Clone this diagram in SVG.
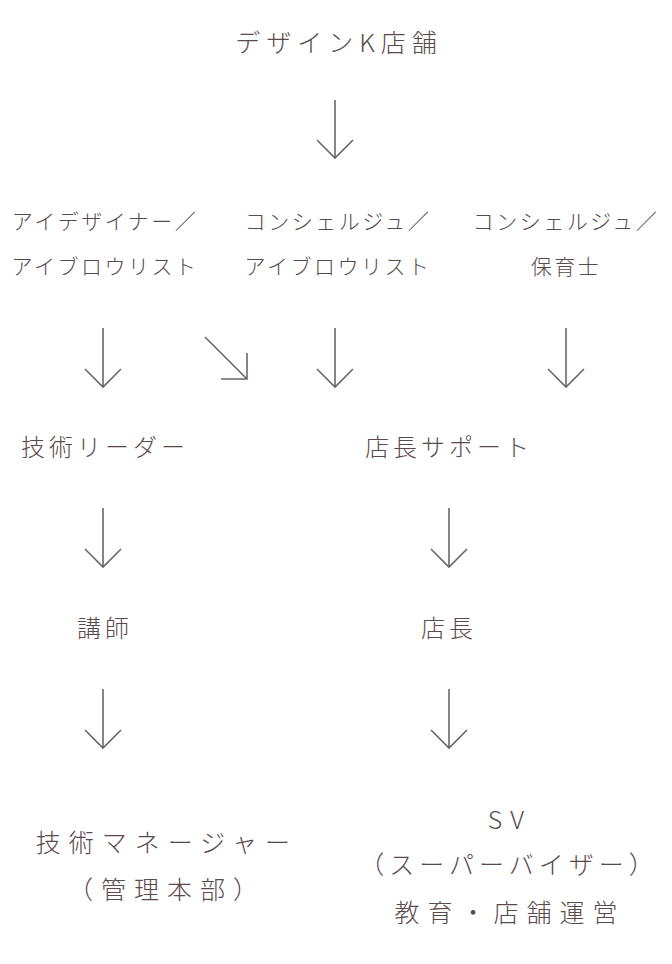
<svg xmlns="http://www.w3.org/2000/svg" width="672" height="964" viewBox="0 0 672 964">
<style>
text{font-family:"Noto Sans CJK JP","Noto Sans",sans-serif;font-weight:300;fill:#5a4a4b;text-anchor:middle}
.a{fill:none;stroke:#6f6569;stroke-width:1.6}
.t{font-size:25px;letter-spacing:6px}
.s{font-size:24px;letter-spacing:4px}
.m{font-size:21px;letter-spacing:2.5px}
.b{font-size:25px;letter-spacing:8px}
.c{font-size:25px;letter-spacing:5px}
</style>
<rect width="672" height="964" fill="#fff"/>
<g id="n0"><text class="t" x="339" y="52">デザインK店舗</text></g>
<g id="n1"><text class="m" x="105" y="229">アイデザイナー／</text><text class="m" x="105" y="274">アイブロウリスト</text></g>
<g id="n2"><text class="m" x="338" y="229">コンシェルジュ／</text><text class="m" x="338" y="274">アイブロウリスト</text></g>
<g id="n3"><text class="m" x="566" y="229">コンシェルジュ／</text><text class="m" x="566" y="274">保育士</text></g>
<g id="n4"><text class="s" x="105" y="456">技術リーダー</text></g>
<g id="n5"><text class="s" x="449" y="456">店長サポート</text></g>
<g id="n6"><text class="s" x="105" y="637">講師</text></g>
<g id="n7"><text class="s" x="449" y="637">店長</text></g>
<g id="n8"><text class="b" x="167" y="852">技術マネージャー</text><text class="b" x="167" y="899">（管理本部）</text></g>
<g id="n9"><text class="b" x="510" y="829">SV</text><text class="c" x="509" y="874">（スーパーバイザー）</text><text class="b" x="510" y="922">教育・店舗運営</text></g>
<g id="connectors">
<path class="a" d="M335 100V158M317 140L335 158L353 140"/>
<path class="a" d="M103 328V387M85 369L103 387L121 369"/>
<path class="a" d="M335 328V387M317 369L335 387L353 369"/>
<path class="a" d="M566 328V387M548 369L566 387L584 369"/>
<path class="a" d="M205 337L247 379M221 379H247V353"/>
<path class="a" d="M103 508V567M85 549L103 567L121 549"/>
<path class="a" d="M449 508V567M431 549L449 567L467 549"/>
<path class="a" d="M103 689V748M85 730L103 748L121 730"/>
<path class="a" d="M449 689V748M431 730L449 748L467 730"/>
</g>
</svg>
